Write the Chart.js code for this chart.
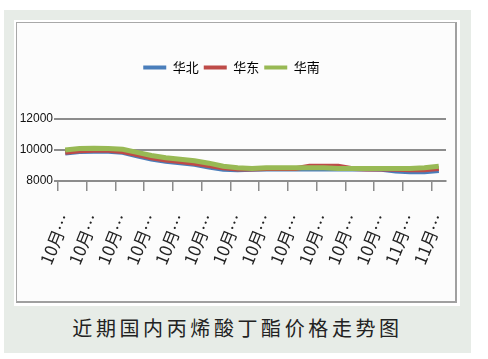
<!DOCTYPE html>
<html>
<head>
<meta charset="utf-8">
<script src="https://cdn.jsdelivr.net/npm/chart.js@4/dist/chart.umd.min.js"></script>
<style>
  html, body { margin: 0; padding: 0; background: #ffffff; }
  body { width: 488px; height: 359px; position: relative; overflow: hidden; }
  .panel { position: absolute; left: 4px; top: 10px; width: 467px; height: 343px; background: #e7ece7; }
  .frame { position: absolute; left: 14px; top: 20px; width: 446px; height: 286px; background: #ffffff; }
  .box { position: absolute; left: 16px; top: 22px; width: 441px; height: 281px; box-sizing: border-box;
         border: 1px solid #a8a8a8; border-right: 2px solid #a0a0a0; border-bottom: 2px solid #a0a0a0; background: #fcfcfc; }
  .box canvas { position: absolute; left: 0; top: 0; }
  .caption { position: absolute; left: 4px; width: 467px; top: 313px; text-align: center;
             font: 20px "Noto Sans CJK SC", sans-serif; letter-spacing: 3.6px; color: #222; }
</style>
</head>
<body>
<div class="panel"></div>
<div class="frame"></div>
<div class="box"><canvas id="myChart" width="438" height="278"></canvas></div>
<div class="caption">近期国内丙烯酸丁酯价格走势图</div>
<script>
const categories = ['10月8日', '10月9日', '10月10日', '10月11日', '10月12日', '10月13日', '10月14日',
    '10月15日', '10月16日', '10月17日', '10月18日', '10月19日', '10月20日', '10月21日', '10月22日',
    '10月23日', '10月24日', '10月25日', '10月26日', '10月27日', '10月28日', '10月29日', '10月30日',
    '10月31日', '11月1日', '11月2日', '11月3日'];

const seriesNames = ['华北', '华东', '华南'];

const huabei = [9800, 9900, 9920, 9920, 9850, 9620, 9420, 9280, 9180, 9080, 8900, 8750, 8720, 8750,
    8780, 8780, 8780, 8780, 8780, 8780, 8780, 8780, 8750, 8650, 8600, 8600, 8680];
const huadong = [9850, 9950, 9980, 9980, 9900, 9700, 9500, 9350, 9250, 9150, 9000, 8850, 8780, 8780,
    8800, 8800, 8800, 8950, 8950, 8950, 8800, 8780, 8780, 8750, 8720, 8720, 8800];
const huanan = [10000, 10100, 10120, 10100, 10050, 9850, 9650, 9500, 9400, 9300, 9150, 8950, 8850, 8800,
    8850, 8850, 8850, 8850, 8850, 8800, 8800, 8800, 8800, 8800, 8800, 8850, 8950];

const yTicks = [8000, 10000, 12000];

const lineColors = ['#4a7ebb', '#be4b48', '#98b954'];

// keep the legend block tall enough so the plot starts lower
const legendSpacer = {
    id: 'legendSpacer',
    beforeInit(chart) {
        const fit = chart.legend.fit;
        chart.legend.fit = function () {
            fit.bind(chart.legend)();
            this.height = 63;
        };
    }
};

const ctx = document.getElementById('myChart').getContext('2d');

const chartData = {
    labels: categories,
    datasets: [huabei, huadong, huanan].map((d, i) => ({
        label: seriesNames[i],
        data: d,
        borderColor: lineColors[i],
        backgroundColor: lineColors[i],
        borderWidth: 5,
        pointRadius: 0,
        tension: 0,
        order: 3 - i
    }))
};

const defaultLabels = Chart.defaults.plugins.legend.labels.generateLabels;

const myChart = new Chart(ctx, {
    type: 'line',
    data: chartData,
    plugins: [legendSpacer],
    options: {
        responsive: false,
        animation: false,
        layout: { padding: { top: 33, right: 9, left: 0, bottom: 0 } },
        plugins: {
            tooltip: { enabled: false },
            legend: {
                position: 'top',
                labels: {
                    boxWidth: 23,
                    boxHeight: 4,
                    padding: 5,
                    color: '#000',
                    font: { family: '"Noto Sans CJK SC", sans-serif', size: 13 },
                    sort: (a, b) => a.datasetIndex - b.datasetIndex,
                    generateLabels: (chart) => defaultLabels(chart).map(item => ({ ...item, lineWidth: 0 }))
                }
            }
        },
        scales: {
            x: {
                offset: true,
                afterFit: (scale) => {
                    scale.height = 120;
                    scale.paddingLeft = 0;
                    scale.paddingRight = 0;
                },
                border: { display: true, color: '#8c8c8c', width: 2 },
                grid: {
                    offset: true,
                    drawOnChartArea: false,
                    drawTicks: true,
                    tickLength: 10,
                    lineWidth: 1.5,
                    color: (c) => (c.index % 2 === 0 ? '#8c8c8c' : 'rgba(0,0,0,0)')
                },
                ticks: {
                    autoSkip: false,
                    minRotation: 68,
                    maxRotation: 68,
                    padding: 20,
                    color: '#222',
                    font: { family: '"Liberation Sans Narrow", "Noto Sans CJK SC", sans-serif', size: 17 },
                    callback: function (value, index) {
                        return index % 2 === 0 ? this.getLabelForValue(value).slice(0, 3) + '…' : '';
                    }
                }
            },
            y: {
                min: 8000,
                max: 12000,
                afterFit: (scale) => {
                    scale.width = 41;
                    scale.paddingTop = 0;
                    scale.paddingBottom = 0;
                },
                afterBuildTicks: (scale) => { scale.ticks = yTicks.map(v => ({ value: v })); },
                border: { display: false },
                grid: {
                    color: '#8c8c8c',
                    lineWidth: 2,
                    tickLength: 4
                },
                ticks: {
                    padding: 1,
                    color: '#111',
                    font: { family: '"Liberation Sans Narrow", sans-serif', size: 12 },
                    callback: (v) => String(v)
                }
            }
        }
    }
});
</script>
</body>
</html>
